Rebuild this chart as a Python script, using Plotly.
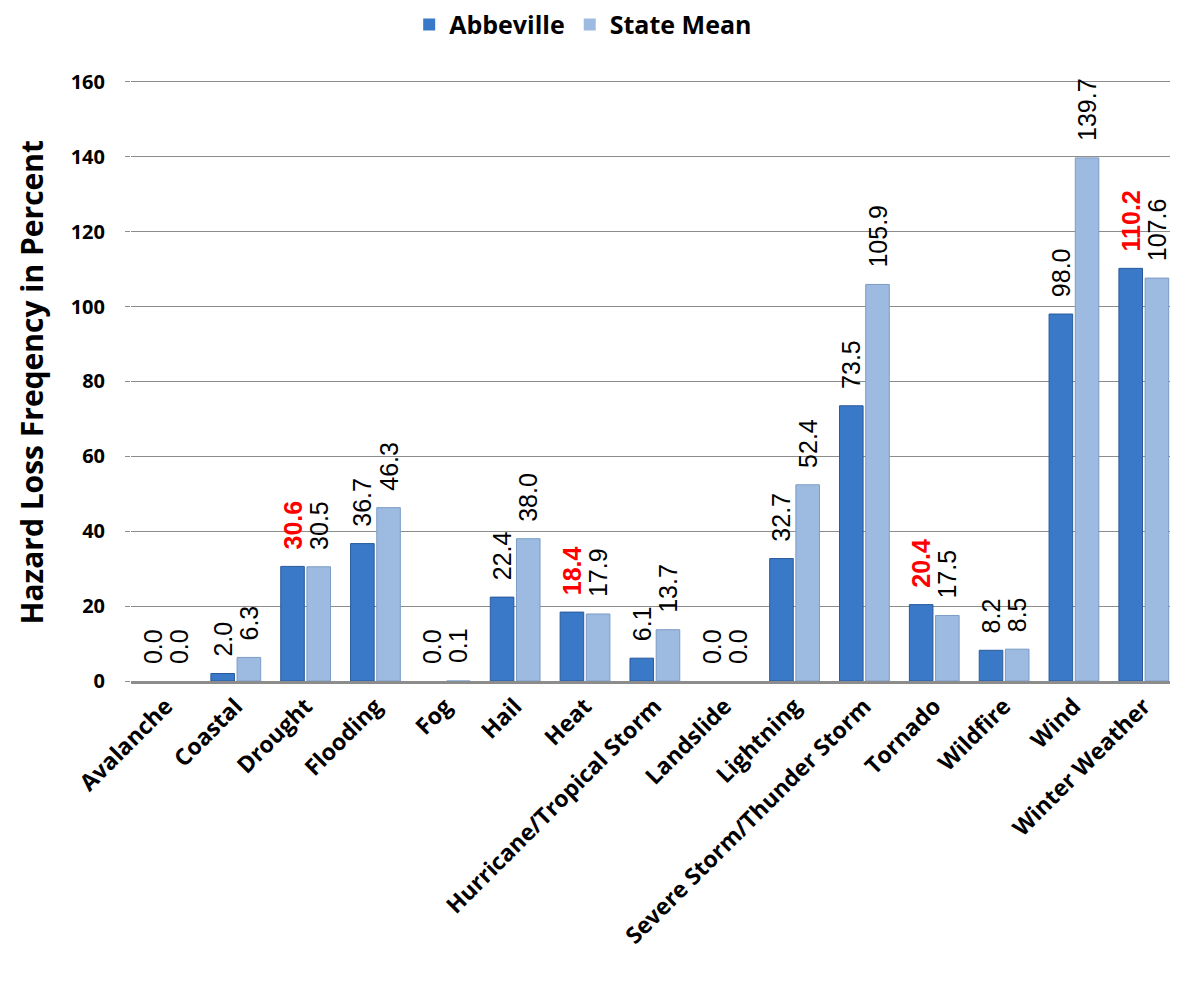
import plotly.graph_objects as go

categories = ["Avalanche", "Coastal", "Drought", "Flooding", "Fog", "Hail", "Heat",
              "Hurricane/Tropical Storm", "Landslide", "Lightning",
              "Severe Storm/Thunder Storm", "Tornado", "Wildfire", "Wind", "Winter Weather"]
abbeville = [0.0, 2.0, 30.6, 36.7, 0.0, 22.4, 18.4, 6.1, 0.0, 32.7, 73.5, 20.4, 8.2, 98.0, 110.2]
state_mean = [0.0, 6.3, 30.5, 46.3, 0.1, 38.0, 17.9, 13.7, 0.0, 52.4, 105.9, 17.5, 8.5, 139.7, 107.6]
y_ticks = [0, 20, 40, 60, 80, 100, 120, 140, 160]
y_title = "Hazard Loss Freqency in Percent"

PAD = "\u00a0\u00a0"

def labels(vals, other, highlight):
    out, cols = [], []
    for v, o in zip(vals, other):
        s = f"{v:.1f}"
        if highlight and v > o:
            out.append(PAD + "<b>" + s + "</b>")
            cols.append("#FF0000")
        else:
            out.append(PAD + s)
            cols.append("#000000")
    return out, cols

a_txt, a_col = labels(abbeville, state_mean, True)
s_txt, s_col = labels(state_mean, abbeville, False)
a_lw = [0 if v < 0.5 else 1 for v in abbeville]
s_lw = [0 if v < 0.5 else 1 for v in state_mean]

fig = go.Figure()
fig.add_trace(go.Bar(
    name="Abbeville", x=categories, y=abbeville,
    marker=dict(color="#3A78C8", line=dict(color="#2A5A9C", width=a_lw)),
    text=a_txt, textposition="outside", textangle=-90,
    textfont=dict(family="Liberation Sans", size=25, color=a_col),
    constraintext="none", cliponaxis=False,
))
fig.add_trace(go.Bar(
    name="State Mean", x=categories, y=state_mean,
    marker=dict(color="#9DBBE0", line=dict(color="#7C9CC6", width=s_lw)),
    text=s_txt, textposition="outside", textangle=-90,
    textfont=dict(family="Liberation Sans", size=25, color=s_col),
    constraintext="none", cliponaxis=False,
))

fig.update_layout(
    width=1162, height=966,
    margin=dict(l=123, r=0, t=72, b=293, autoexpand=False),
    plot_bgcolor="white", paper_bgcolor="white",
    barmode="group", bargap=0.25, bargroupgap=0.1,
    font=dict(family="Open Sans", color="black"),
    legend=dict(orientation="h", xref="container", yref="paper",
                x=0.495, xanchor="center", y=1.092, yanchor="middle",
                font=dict(family="Open Sans", size=25, weight="bold"),
                traceorder="normal"),
    showlegend=True,
    annotations=[dict(
        text="<b>" + y_title + "</b>", textangle=-90,
        xref="paper", yref="paper", x=-0.096, y=0.497,
        xanchor="center", yanchor="middle", showarrow=False,
        font=dict(family="Open Sans", size=30, color="black"),
    )],
)
fig.update_xaxes(
    range=[-0.5, 14.375], tickangle=-45, automargin=False,
    tickfont=dict(family="Open Sans", size=23, weight="bold"),
    showline=True, linecolor="#8C8C8C", linewidth=2.5,
    showgrid=False, ticks="",
)
fig.update_yaxes(
    range=[0, 160.5], tickvals=y_ticks, automargin=False,
    tickfont=dict(family="Open Sans", size=20, weight="bold"),
    showgrid=True, gridcolor="#8C8C8C", gridwidth=1.3,
    ticks="outside", ticklen=5, tickcolor="#8C8C8C",
    ticklabelstandoff=16,
    zeroline=False,
)

fig.write_html("out.html")
